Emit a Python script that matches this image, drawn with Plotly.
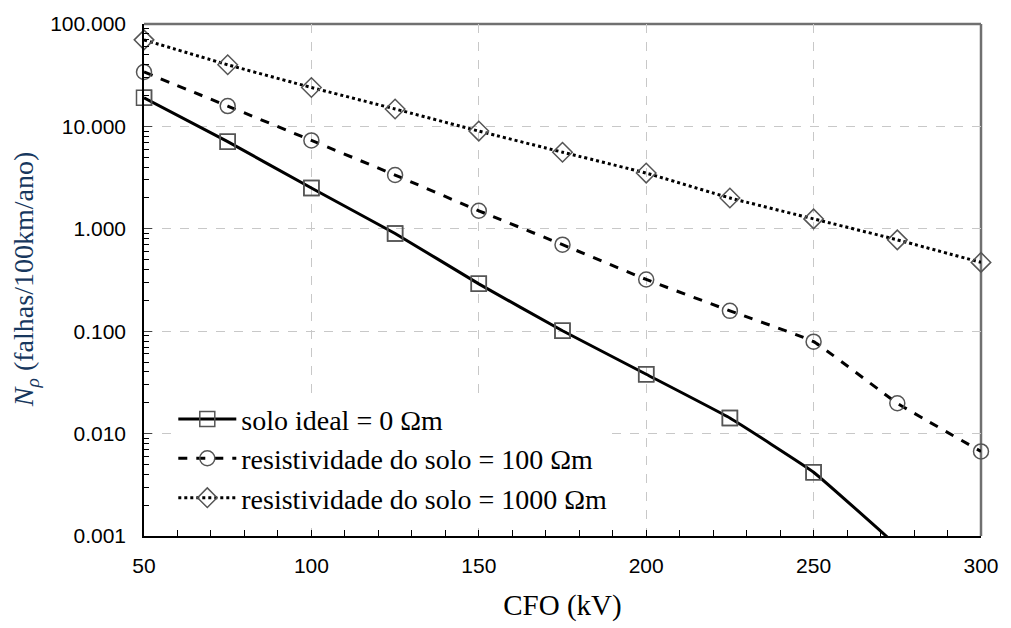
import plotly.graph_objects as go

cfo = [50, 75, 100, 125, 150, 175, 200, 225, 250, 275, 300]
solo_ideal = [19.0, 7.1, 2.5, 0.90, 0.29, 0.101, 0.038, 0.0142, 0.0042, 0.00080, 0.00015]
solo_100 = [34.0, 15.8, 7.3, 3.35, 1.5, 0.70, 0.32, 0.158, 0.079, 0.0198, 0.0067]
solo_1000 = [70.0, 40.0, 24.0, 14.8, 9.0, 5.6, 3.5, 2.0, 1.25, 0.78, 0.47]

names = ["solo ideal = 0 Ωm", "resistividade do solo = 100 Ωm", "resistividade do solo = 1000 Ωm"]
y_title = "<i>N<sub>ρ</sub></i> (falhas/100km/ano)"
x_title = "CFO (kV)"

tickvals = [0.001, 0.01, 0.1, 1, 10, 100]
ticktext = ["0.001", "0.010", "0.100", "1.000", "10.000", "100.000"]
minor_vals = [m * d for d in [0.001, 0.01, 0.1, 1, 10] for m in range(2, 10)]
y_min = 0.001

SERIF = "Liberation Serif"
SANS = "Liberation Sans"

fig = go.Figure()
series = [
    (solo_ideal, names[0], "solid", "square-open"),
    (solo_100, names[1], "dash", "circle-open"),
    (solo_1000, names[2], "dot", "diamond-open"),
]
for ys, nm, dash, sym in series:
    inside = all(v >= y_min for v in ys)
    fig.add_trace(go.Scatter(
        x=cfo, y=ys, name=nm, mode="lines+markers",
        line=dict(color="black", width=3, dash=dash, shape="spline", smoothing=0.3),
        marker=dict(symbol=sym, size=15, color="#555555", line=dict(width=1.5, color="#555555")),
        cliponaxis=not inside,
    ))
    if not inside:
        xs_in = [x for x, v in zip(cfo, ys) if v >= y_min]
        ys_in = [v for v in ys if v >= y_min]
        fig.add_trace(go.Scatter(
            x=xs_in, y=ys_in, mode="markers", showlegend=False, hoverinfo="skip",
            marker=dict(symbol=sym, size=15, color="#555555", line=dict(width=1.5, color="#555555")),
            cliponaxis=False,
        ))

fig.update_layout(
    width=1011, height=628,
    margin=dict(l=144, r=23, t=17, b=90),
    paper_bgcolor="white", plot_bgcolor="white",
    font=dict(family=SERIF),
    showlegend=True,
    legend=dict(
        x=0.035, y=0.277, xanchor="left", yanchor="top",
        bgcolor="white", borderwidth=0,
        font=dict(family=SERIF, size=28, color="black"),
        tracegroupgap=2, itemwidth=58,
    ),
    xaxis=dict(
        range=[50, 300], tickvals=[50, 100, 150, 200, 250, 300],
        ticks="inside", ticklen=0, ticklabelstandoff=10,
        minor=dict(ticks="inside", dtick=10, ticklen=6, tickcolor="black", showgrid=False),
        showgrid=True, gridcolor="#c8c8c8", griddash="dash", gridwidth=1.2,
        showline=True, linecolor="black", linewidth=1.5, mirror=False,
        tickfont=dict(family=SANS, size=21, color="black"),
        title=dict(text=x_title, font=dict(family=SERIF, size=29, color="black"), standoff=19),
        zeroline=False,
    ),
    yaxis=dict(
        type="log", range=[-3, 2],
        tickvals=tickvals, ticktext=ticktext,
        ticks="inside", ticklen=8, ticklabelstandoff=12,
        minor=dict(tickvals=minor_vals, ticks="inside", ticklen=5, tickcolor="black", showgrid=False),
        showgrid=True, gridcolor="#c8c8c8", griddash="dash", gridwidth=1.2,
        showline=True, linecolor="black", linewidth=1.5,
        tickfont=dict(family=SANS, size=21, color="black"),
        zeroline=False,
    ),
    annotations=[dict(
        text=y_title, textangle=-90, xref="paper", yref="paper",
        x=-0.142, y=0.5, xanchor="center", yanchor="middle", showarrow=False,
        font=dict(family=SERIF, size=28, color="#17375E"),
    )],
)

# top and right frame (gray)
fig.add_shape(type="line", xref="paper", yref="paper", x0=0, x1=1, y0=1, y1=1, line=dict(color="#707070", width=2.5), layer="below")
fig.add_shape(type="line", xref="paper", yref="paper", x0=1, x1=1, y0=0, y1=1, line=dict(color="#707070", width=2.5), layer="below")

fig.write_html("out.html")
